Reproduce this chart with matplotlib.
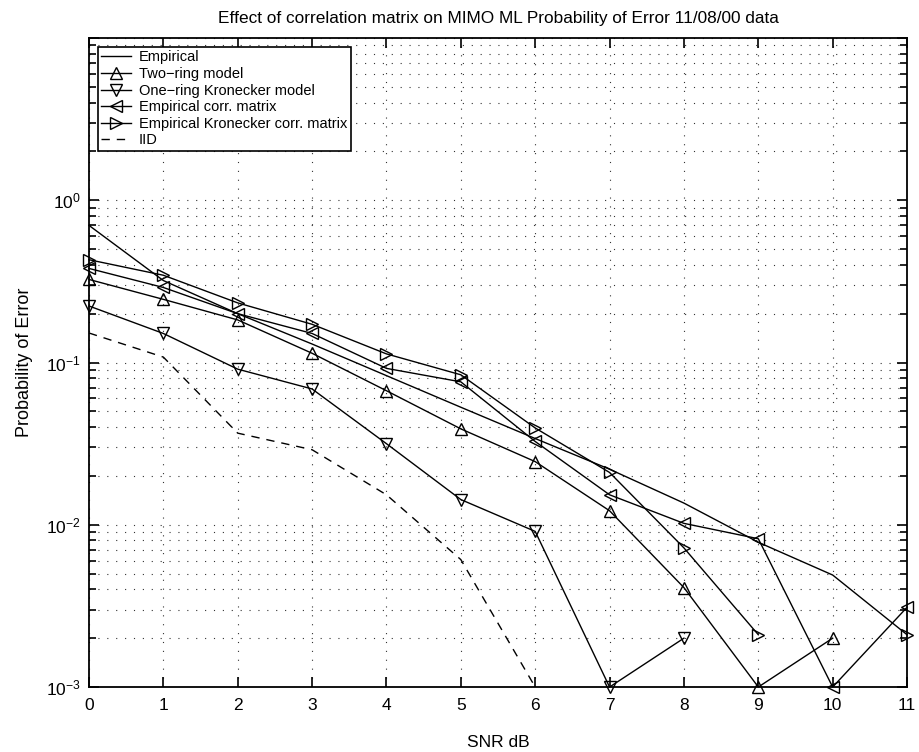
import numpy as np
import matplotlib
matplotlib.use("Agg")
import matplotlib.pyplot as plt
from matplotlib.ticker import LogLocator, NullFormatter

plt.rcParams['font.family'] = ['Liberation Sans', 'DejaVu Sans']
plt.rcParams['mathtext.fontset'] = 'custom'
plt.rcParams['mathtext.rm'] = 'Liberation Sans'
plt.rcParams['mathtext.it'] = 'Liberation Sans'

snr = [0, 1, 2, 3, 4, 5, 6, 7, 8, 9, 10, 11]
nan = np.nan
empirical = [0.70, 0.32, 0.20, 0.13, 0.083, 0.053, 0.034, 0.022, 0.0136, 0.0078, 0.0049, 0.0021]
two_ring = [0.325, 0.245, 0.183, 0.114, 0.067, 0.039, 0.0245, 0.0122, 0.0041, 0.001, 0.002, nan]
one_ring = [0.223, 0.151, 0.091, 0.0687, 0.0316, 0.0143, 0.0091, 0.001, 0.002, nan, nan, nan]
emp_corr = [0.38, 0.29, 0.20, 0.151, 0.092, 0.076, 0.0326, 0.0153, 0.0102, 0.0082, 0.001, 0.0031]
emp_kron = [0.43, 0.345, 0.233, 0.172, 0.113, 0.084, 0.0395, 0.021, 0.0072, 0.0021, nan, 0.0021]
iid = [0.152, 0.108, 0.0367, 0.029, 0.0153, 0.0061, 0.001, nan, nan, nan, nan, nan]

fig = plt.figure(figsize=(9.19, 7.52), dpi=100)
ax = fig.add_axes([0.0968, 0.0864, 0.8902, 0.8631])

lw = 1.0
ms = 9
common = dict(color='black', lw=lw, clip_on=False)
mk = dict(ms=ms, mfc='none', mew=1.0)
ax.plot(snr, empirical, '-', label='Empirical', **common)
ax.plot(snr, two_ring, '-^', label='Two\u2212ring model', **common, **mk)
ax.plot(snr, one_ring, '-v', label='One\u2212ring Kronecker model', **common, **mk)
ax.plot(snr, emp_corr, '-<', label='Empirical corr. matrix', **common, **mk)
ax.plot(snr, emp_kron, '->', label='Empirical Kronecker corr. matrix', **common, **mk)
ax.plot(snr, iid, '--', dashes=(6, 5), label='IID', **common)

ax.set_yscale('log')
ax.set_xlim(0, 11)
ax.set_ylim(1e-3, 1e1)
ax.set_xticks(range(0, 12))
ax.set_yticks([1e-3, 1e-2, 1e-1, 1e0, 1e1])
ax.set_yticklabels([r'$10^{-3}$', r'$10^{-2}$', r'$10^{-1}$', r'$10^{0}$', ''])
ax.yaxis.set_minor_locator(LogLocator(base=10, subs=np.arange(2, 10), numticks=20))
ax.yaxis.set_minor_formatter(NullFormatter())

grid_style = dict(linestyle=(0, (1, 7)), color='#333333', lw=0.8)
ax.grid(True, which='major', axis='both', **grid_style)
ax.grid(True, which='minor', axis='y', **grid_style)

ax.tick_params(which='both', direction='in', top=True, right=True, labelsize=12.5)
ax.tick_params(axis='x', which='major', pad=8)
ax.tick_params(axis='y', which='major', pad=6)
ax.tick_params(which='major', length=7, width=1.2)
ax.tick_params(which='minor', length=5, width=1.2)
for s in ax.spines.values():
    s.set_linewidth(1.3)

ax.set_xlabel('SNR dB', fontsize=12.5, labelpad=16)
ax.set_ylabel('Probability of Error', fontsize=13, labelpad=9)
ax.set_title('Effect of correlation matrix on MIMO ML Probability of Error 11/08/00 data',
             fontsize=12.4, pad=11)

leg = ax.legend(loc='upper left', fontsize=10.5, frameon=True, fancybox=False, edgecolor='black',
                borderaxespad=0.6, handlelength=2.0, handletextpad=0.55, labelspacing=0.18,
                borderpad=0.25, numpoints=1, framealpha=1)
leg.get_frame().set_linewidth(1.2)

fig.savefig('out.png', dpi=100)
